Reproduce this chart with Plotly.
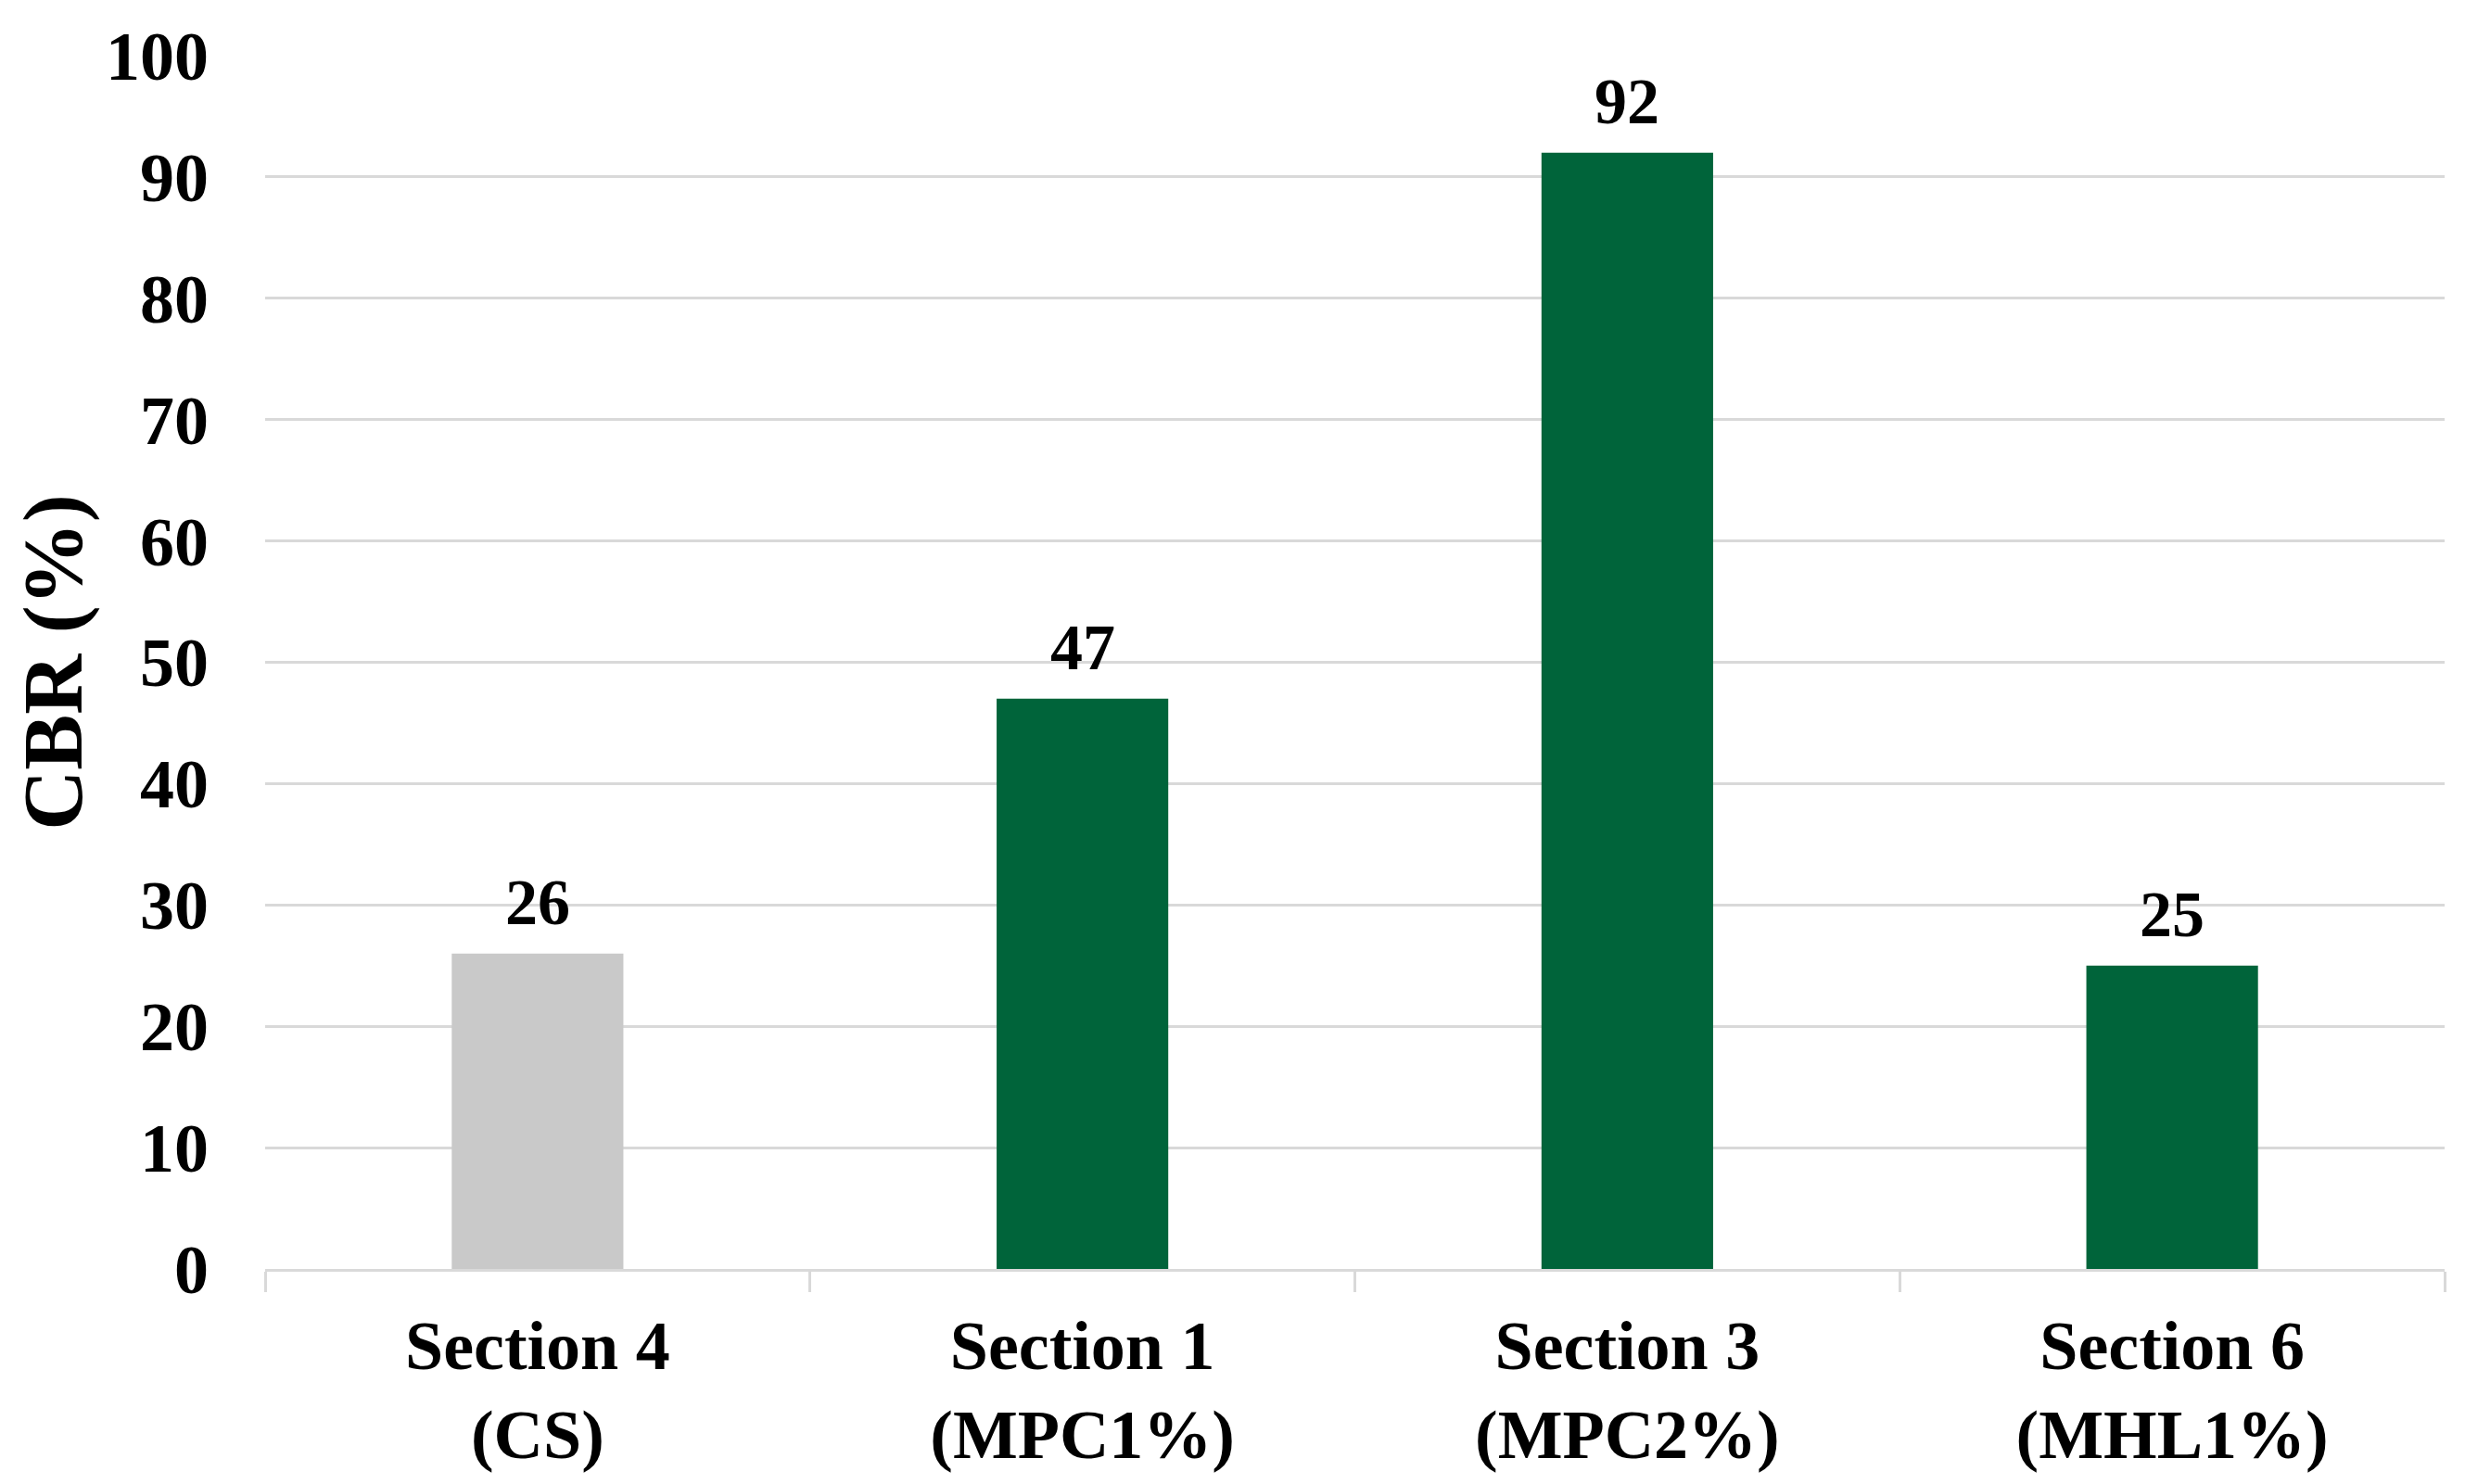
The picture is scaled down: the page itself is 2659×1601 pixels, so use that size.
import plotly.graph_objects as go

categories = ["Section 4<br>(CS)", "Section 1<br>(MPC1%)", "Section 3<br>(MPC2%)", "Section 6<br>(MHL1%)"]
cbr_values = [26, 47, 92, 25]
bar_colors = ["#c9c9c9", "#00643a", "#00643a", "#00643a"]
y_ticks = [0, 10, 20, 30, 40, 50, 60, 70, 80, 90, 100]

FONT = "Liberation Serif"
GRID = "#d9d9d9"

fig = go.Figure()
fig.add_trace(go.Bar(
    x=categories,
    y=cbr_values,
    marker=dict(color=bar_colors, line=dict(width=0)),
    width=0.315,
    showlegend=False,
))

for c, v in zip(categories, cbr_values):
    fig.add_annotation(
        x=c, y=v, text=str(v), showarrow=False,
        yanchor="bottom", yshift=15,
        font=dict(family=FONT, size=70, color="black", weight="bold"),
    )

fig.update_layout(
    width=2651, height=1593,
    margin=dict(l=278, r=22, t=42, b=231),
    plot_bgcolor="white", paper_bgcolor="white",
    font=dict(family=FONT, color="black", weight="bold"),
)
fig.update_xaxes(
    showline=True, linecolor=GRID, linewidth=3,
    ticks="outside", tickson="boundaries", ticklen=22, tickwidth=3, tickcolor=GRID,
    tickfont=dict(family=FONT, size=74, color="black", weight="bold"),
    ticklabelstandoff=16,
    showgrid=False, zeroline=False,
)
fig.update_yaxes(
    range=[0, 100], tickvals=y_ticks,
    showgrid=True, gridcolor=GRID, gridwidth=2.5,
    showline=False, zeroline=False, ticks="",
    tickfont=dict(family=FONT, size=74, color="black", weight="bold"),
    ticklabelstandoff=60,
    title=dict(text="CBR (%)", font=dict(family=FONT, size=90, color="black", weight="bold"), standoff=25),
)

fig.write_html("out.html")
